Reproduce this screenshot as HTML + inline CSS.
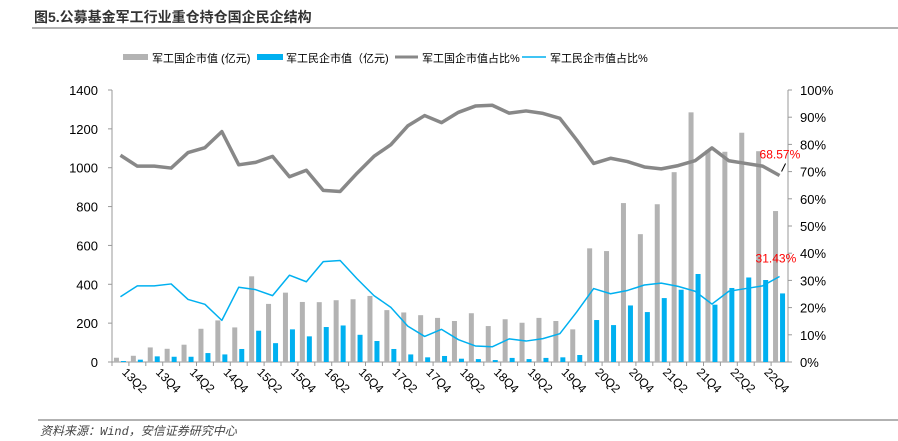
<!DOCTYPE html>
<html><head><meta charset="utf-8">
<style>
body{margin:0;background:#fff;width:898px;height:441px;overflow:hidden;font-family:"Liberation Sans","Noto Sans CJK SC",sans-serif;}
svg{display:block}
</style></head>
<body>
<svg id="chart" width="898" height="441">
<text x="34" y="22" font-size="14" font-weight="bold" fill="#333" font-family="'Liberation Sans','Noto Sans CJK SC',sans-serif">图5.公募基金军工行业重仓持仓国企民企结构</text>
<line x1="32" y1="28" x2="898" y2="28" stroke="#666" stroke-width="1"/>
<g font-size="11" fill="#000">
<g><rect x="123" y="54" width="25" height="6" fill="#b3b3b3"/><text x="152" y="62">军工国企市值 (亿元)</text></g>
<g><rect x="257" y="54" width="26" height="6" fill="#00b0f0"/><text x="286" y="62">军工民企市值（亿元)</text></g>
<g><line x1="395" y1="57" x2="418" y2="57" stroke="#888" stroke-width="3"/><text x="422" y="62">军工国企市值占比%</text></g>
<g><line x1="522" y1="57" x2="546" y2="57" stroke="#00b0f0" stroke-width="1.5"/><text x="550" y="62">军工民企市值占比%</text></g>
</g>
<g id="plot"></g>
<line x1="38" y1="420" x2="898" y2="420" stroke="#666" stroke-width="1"/>
<text x="40" y="435" font-size="12" font-style="italic" fill="#444" font-family="'Liberation Mono','Noto Sans CJK SC',monospace">资料来源：Wind，安信证券研究中心</text>
</svg>
<script>
const categories=['13Q1','13Q2','13Q3','13Q4','14Q1','14Q2','14Q3','14Q4','15Q1','15Q2','15Q3','15Q4','16Q1','16Q2','16Q3','16Q4','17Q1','17Q2','17Q3','17Q4','18Q1','18Q2','18Q3','18Q4','19Q1','19Q2','19Q3','19Q4','20Q1','20Q2','20Q3','20Q4','21Q1','21Q2','21Q3','21Q4','22Q1','22Q2','22Q3','22Q4'];
const soeValue=[22,32,75,68,89,171,214,178,441,299,357,309,308,318,323,340,267,255,241,227,211,251,185,220,202,227,211,168,585,571,818,658,812,977,1285,1090,1082,1180,1085,777];
const privValue=[5,12,29,27,27,46,39,67,161,97,168,132,180,188,140,108,67,39,24,31,17,15,10,21,15,21,24,36,216,190,291,257,329,372,453,295,381,435,422,353];
const soeShare=[76,72,72,71.3,77,78.8,84.7,72.5,73.4,75.6,68.1,70.5,63.1,62.7,69.4,75.6,79.9,86.8,90.6,88,91.8,94.1,94.4,91.5,92.3,91.4,89.6,81.6,73,74.9,73.7,71.7,71,72.2,74,78.7,74,73,72,68.57];
const privShare=[24,28,28,28.7,23,21.2,15.3,27.5,26.6,24.4,31.9,29.5,36.9,37.3,30.6,24.4,20.1,13.2,9.4,12,8.2,5.9,5.6,8.5,7.7,8.6,10.4,18.4,27,25.1,26.3,28.3,29,27.8,26,21.3,26,27,28,31.43];
const leftTicks=[0,200,400,600,800,1000,1200,1400];
const rightTicks=[0,10,20,30,40,50,60,70,80,90,100];

const NS='http://www.w3.org/2000/svg';
const plot=document.getElementById('plot');
const X0=112,X1=788,Y0=362,Y1=90;
const step=(X1-X0)/categories.length;
const xc=i=>X0+step*(i+0.5);
const yL=v=>Y0-(v/1400)*(Y0-Y1);
const yR=p=>Y0-(p/100)*(Y0-Y1);
function mk(tag,attrs,parent){const e=document.createElementNS(NS,tag);for(const k in attrs)e.setAttribute(k,attrs[k]);(parent||plot).appendChild(e);return e;}

let a=mk('line',{x1:X0,y1:Y1,x2:X0,y2:Y0,stroke:'#999'});


a=mk('line',{x1:X1,y1:Y1,x2:X1,y2:Y0,stroke:'#999'});


a=mk('line',{x1:X0,y1:Y0,x2:X1,y2:Y0,stroke:'#999'});


leftTicks.forEach(v=>{
  const t=mk('text',{x:X0-14,y:yL(v)+5,'text-anchor':'end','font-size':13,fill:'#000'});
  t.textContent=v;
  
  
  mk('line',{x1:X0-4,y1:yL(v),x2:X0,y2:yL(v),stroke:'#999'});
});
rightTicks.forEach(v=>{
  const t=mk('text',{x:X1+12,y:yR(v)+5,'font-size':13,fill:'#000'});
  t.textContent=v+'%';
  
  
  mk('line',{x1:X1,y1:yR(v),x2:X1+4,y2:yR(v),stroke:'#999'});
});
categories.forEach((c,i)=>{
  mk('line',{x1:X0+step*i,y1:Y0,x2:X0+step*i,y2:Y0+4,stroke:'#999'});
  if(i%2===1){
    const x=xc(i)-16,y=Y0+11;
    const t=mk('text',{x:x,y:y,'font-size':12,fill:'#000',transform:`rotate(45 ${x} ${y})`});
    t.textContent=c;
    
    
  }
});
categories.forEach((c,i)=>{
  const b1=mk('rect',{x:xc(i)-6.5,y:yL(soeValue[i]),width:5,height:Y0-yL(soeValue[i]),fill:'#b3b3b3'});
  
  
  const b2=mk('rect',{x:xc(i)+0.5,y:yL(privValue[i]),width:5,height:Y0-yL(privValue[i]),fill:'#00b0f0'});
  
  
});
const l1=mk('polyline',{points:soeShare.map((v,i)=>xc(i)+','+yR(v)).join(' '),fill:'none',stroke:'#888','stroke-width':3.5,'stroke-linejoin':'round'});


const l2=mk('polyline',{points:privShare.map((v,i)=>xc(i)+','+yR(v)).join(' '),fill:'none',stroke:'#00b0f0','stroke-width':1.5,'stroke-linejoin':'round'});


const n=categories.length-1;
const d1=mk('text',{x:xc(n)-20,y:yR(soeShare[n])-17,'font-size':12,fill:'#ff0000'});
d1.textContent=soeShare[n].toFixed(2)+'%';


mk('line',{x1:xc(n)+2,y1:yR(soeShare[n])-4,x2:xc(n)+6,y2:yR(soeShare[n])-12,stroke:'#000'});
const d2=mk('text',{x:xc(n)-24,y:yR(privShare[n])-14,'font-size':12,fill:'#ff0000'});
d2.textContent=privShare[n].toFixed(2)+'%';


</script>
</body></html>
